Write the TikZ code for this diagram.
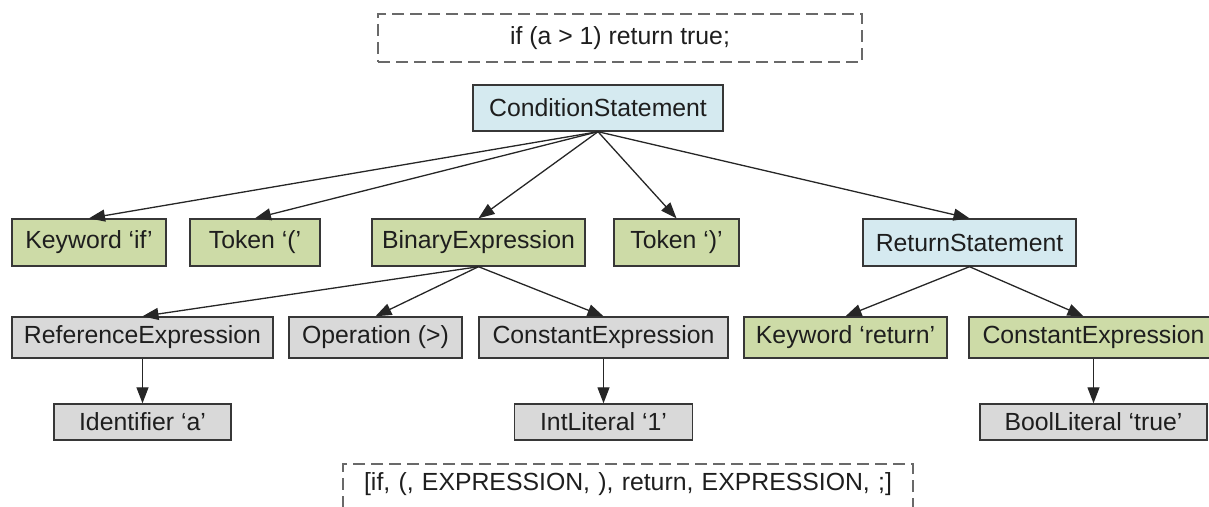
\documentclass[tikz,border=0pt]{standalone}
\usepackage{fontspec}
\setmainfont{Liberation Sans}
\usetikzlibrary{arrows.meta}
\definecolor{gfill}{RGB}{205,219,167}
\definecolor{bfill}{RGB}{213,234,240}
\definecolor{kfill}{RGB}{217,217,217}
\definecolor{bord}{RGB}{55,55,55}
\definecolor{dashc}{RGB}{105,105,105}
\definecolor{txt}{RGB}{30,30,30}
\tikzset{
  base/.style={draw=bord, line width=0.7pt, inner sep=0pt, font=\fontsize{12.4pt}{14pt}\selectfont, text=txt},
  gbox/.style={base, fill=gfill, minimum height=23.5pt},
  bbox/.style={base, fill=bfill, minimum height=23pt},
  kbox/.style={base, fill=kfill, minimum height=20.5pt},
  lbox/.style={base, fill=kfill, minimum height=18pt},
  g3box/.style={base, fill=gfill, minimum height=20.5pt},
  dbox/.style={draw=dashc, line width=1pt, dash pattern=on 6pt off 3pt, inner sep=0pt, font=\fontsize{12.4pt}{14pt}\selectfont, text=txt},
  edge/.style={draw=black!85, line width=0.65pt, -{Triangle[length=8pt,width=6pt]}}
}
\begin{document}
\begin{tikzpicture}[x=0.5pt,y=-0.5pt]
\useasboundingbox (0,0) rectangle (1209,507);
\node[dbox, minimum width=242pt, minimum height=24pt] (src) at (620,38) {if (a > 1) return true;};
\node[bbox, minimum width=125pt] (cs) at (598,108) {ConditionStatement};
\node[gbox, minimum width=77pt] (kwif) at (89,242.5) {Keyword ‘if’};
\node[gbox, minimum width=65pt] (tokl) at (255,242.5) {Token ‘(’};
\node[gbox, minimum width=106.5pt] (bin) at (478.5,242.5) {BinaryExpression};
\node[gbox, minimum width=62.5pt] (tokr) at (676.5,242.5) {Token ‘)’};
\node[bbox, minimum width=106.5pt, minimum height=23.5pt] (ret) at (969.5,242.5) {ReturnStatement};
\node[kbox, minimum width=130.5pt] (ref) at (142.5,337.5) {ReferenceExpression};
\node[kbox, minimum width=86.5pt] (op) at (375.5,337.5) {Operation (>)};
\node[kbox, minimum width=124.5pt] (ce1) at (603.5,337.5) {ConstantExpression};
\node[g3box, minimum width=101.5pt] (kwret) at (845.5,337.5) {Keyword ‘return’};
\node[g3box, minimum width=124.5pt] (ce2) at (1093.5,337.5) {ConstantExpression};
\node[lbox, minimum width=88.5pt] (id) at (142.5,422) {Identifier ‘a’};
\node[lbox, minimum width=89pt] (int) at (603.5,422) {IntLiteral ‘1’};
\node[lbox, minimum width=113.5pt] (bool) at (1093.5,422) {BoolLiteral ‘true’};
\node[dbox, anchor=north west, minimum width=285pt, text height=13pt, text depth=22pt, text width=285pt, align=center] (tokens) at (342,463) {[if, (, EXPRESSION, ), return, EXPRESSION, ;]};
\draw[edge] (cs.south) -- (kwif.north);
\draw[edge] (cs.south) -- (tokl.north);
\draw[edge] (cs.south) -- (bin.north);
\draw[edge] (cs.south) -- (tokr.north);
\draw[edge] (cs.south) -- (ret.north);
\draw[edge] (bin.south) -- (ref.north);
\draw[edge] (bin.south) -- (op.north);
\draw[edge] (bin.south) -- (ce1.north);
\draw[edge] (ret.south) -- (kwret.north);
\draw[edge] (ret.south) -- ([xshift=-5pt]ce2.north);
\draw[edge] (ref.south) -- (id.north);
\draw[edge] (ce1.south) -- (int.north);
\draw[edge] (ce2.south) -- (bool.north);
\end{tikzpicture}
\end{document}
